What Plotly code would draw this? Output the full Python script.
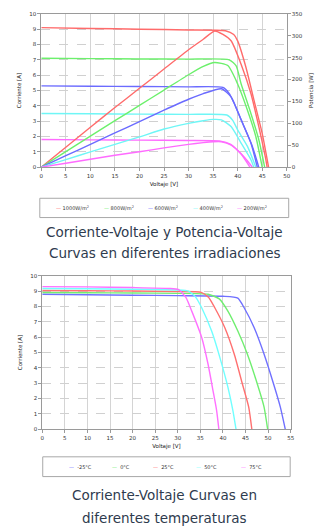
import plotly.graph_objects as go

W, H = 331, 531

# ---------------- data: irradiance chart ----------------
irr_labels = ["1000W/m<sup>2</sup>", "800W/m<sup>2</sup>", "600W/m<sup>2</sup>", "400W/m<sup>2</sup>", "200W/m<sup>2</sup>"]
irr_colors = ["#ff6b6b", "#6cf06c", "#6b6bff", "#6ff6f6", "#ff6bff"]

iv_v_1000 = [0, 10, 20, 30, 37.5, 39.2, 40, 41.7, 43.3, 45, 46.3]
iv_i_1000 = [9.1, 9.05, 9.0, 8.95, 8.9, 8.65, 8.24, 6.5, 4.4, 2.2, 0]
iv_v_800 = [0, 10, 20, 30, 38.3, 39.7, 40.7, 42.7, 44.3, 45.5]
iv_i_800 = [7.1, 7.08, 7.06, 7.05, 7.0, 6.6, 5.44, 3.5, 1.8, 0]
iv_v_600 = [0, 10, 20, 30, 37.0, 38.3, 39.3, 41.3, 43, 44.3]
iv_i_600 = [5.3, 5.28, 5.26, 5.24, 5.2, 4.8, 4.15, 2.65, 1.35, 0]
iv_v_400 = [0, 10, 20, 30, 37.8, 39, 40, 42, 43.7]
iv_i_400 = [3.5, 3.48, 3.46, 3.44, 3.4, 3.05, 2.43, 1.35, 0]
iv_v_200 = [0, 10, 20, 30, 36.5, 38.5, 40, 41.5, 43]
iv_i_200 = [1.8, 1.78, 1.76, 1.74, 1.7, 1.5, 1.1, 0.6, 0]

pv_v_1000 = [0, 5, 10, 15, 20, 25, 30, 33, 35.3, 37, 38.7, 40.7, 42.7, 44.3, 45.7, 46]
pv_p_1000 = [0, 45.5, 91, 136, 180, 224, 268, 292, 311, 303, 288, 235, 168, 93, 20, 0]
pv_v_800 = [0, 5, 10, 15, 20, 25, 30, 33, 35.3, 38, 40, 42, 43.7, 45]
pv_p_800 = [0, 35.5, 71, 106, 141, 176, 211, 230, 239, 232, 190, 130, 70, 0]
pv_v_600 = [0, 5, 10, 15, 20, 25, 30, 33, 36.7, 38.7, 40.7, 42.7, 44]
pv_p_600 = [0, 26, 52, 78, 104, 130, 155, 168, 179, 160, 108, 55, 0]
pv_v_400 = [0, 5, 10, 15, 20, 25, 30, 33, 35, 36.7, 38.7, 40.7, 42.7, 43.3]
pv_p_400 = [0, 17, 35, 52, 69, 87, 100, 106, 109, 108, 92, 55, 17, 0]
pv_v_200 = [0, 5, 10, 15, 20, 25, 30, 33, 35, 36.7, 38.7, 40.7, 42.5]
pv_p_200 = [0, 9, 18, 27, 35, 44, 52, 56, 58, 58, 50, 30, 0]

iv_sets = [(iv_v_1000, iv_i_1000), (iv_v_800, iv_i_800), (iv_v_600, iv_i_600),
           (iv_v_400, iv_i_400), (iv_v_200, iv_i_200)]
pv_sets = [(pv_v_1000, pv_p_1000), (pv_v_800, pv_p_800), (pv_v_600, pv_p_600),
           (pv_v_400, pv_p_400), (pv_v_200, pv_p_200)]

# ---------------- data: temperature chart ----------------
temp_labels = ["-25°C", "0°C", "25°C", "50°C", "75°C"]
temp_colors = ["#7070ff", "#70ee70", "#ff7070", "#70ffff", "#ff70ff"]

t_v_m25 = [0, 10, 20, 30, 40, 43.3, 44.7, 46.9, 49.1, 51.2, 52.7, 53.8]
t_i_m25 = [8.8, 8.77, 8.74, 8.71, 8.67, 8.55, 7.92, 6.63, 4.9, 2.96, 1.45, 0]
t_v_0 = [0, 10, 20, 30, 36.7, 39.2, 41.1, 43.3, 45.4, 47.6, 49.1, 49.9]
t_i_0 = [8.92, 8.9, 8.88, 8.86, 8.8, 8.5, 7.7, 6.4, 4.9, 2.96, 1.45, 0]
t_v_25 = [0, 10, 20, 30, 35.2, 36.8, 38.2, 40.4, 42.5, 44.3, 45.7, 46.4]
t_i_25 = [9.05, 9.03, 9.01, 8.98, 8.92, 8.6, 7.92, 6.63, 4.9, 2.96, 1.45, 0]
t_v_50 = [0, 10, 20, 30, 32.4, 34, 35.3, 37.5, 39.3, 41.1, 42.2, 42.9]
t_i_50 = [9.18, 9.16, 9.13, 9.08, 9.0, 8.6, 7.92, 6.4, 4.7, 2.74, 1.23, 0]
t_v_75 = [0, 10, 20, 28, 30.2, 31.8, 33.1, 35.3, 36.7, 37.8, 38.6, 39.1]
t_i_75 = [9.3, 9.28, 9.24, 9.18, 9.1, 8.6, 7.7, 5.98, 4.25, 2.52, 1.23, 0]

temp_sets = [(t_v_m25, t_i_m25), (t_v_0, t_i_0), (t_v_25, t_i_25),
             (t_v_50, t_i_50), (t_v_75, t_i_75)]

# ---------------- figure ----------------
fig = go.Figure()

line_style = dict(width=1.4, shape="spline", smoothing=0.55)
for (v, i), c in zip(iv_sets, irr_colors):
    fig.add_trace(go.Scatter(x=v, y=i, mode="lines", xaxis="x", yaxis="y",
                             line=dict(color=c, **line_style),
                             showlegend=False, hoverinfo="skip"))
for (v, p), c in zip(pv_sets, irr_colors):
    fig.add_trace(go.Scatter(x=v, y=p, mode="lines", xaxis="x", yaxis="y2",
                             line=dict(color=c, **line_style),
                             showlegend=False, hoverinfo="skip"))
for (v, i), c in zip(temp_sets, temp_colors):
    fig.add_trace(go.Scatter(x=v, y=i, mode="lines", xaxis="x2", yaxis="y3",
                             line=dict(color=c, **line_style),
                             showlegend=False, hoverinfo="skip"))


def py(px):
    return 1 - px / H


def pxx(px):
    return px / W


tickfont = dict(family="DejaVu Sans, Verdana", size=5.5, color="#333333")
titlefont = dict(family="DejaVu Sans, Verdana", size=5.5, color="#222222")
axis_common = dict(showline=True, linecolor="#9a9a9a", linewidth=1, mirror=True,
                   ticks="outside", ticklen=3, tickcolor="#9a9a9a", tickfont=tickfont,
                   zeroline=False, fixedrange=True)

fig.update_layout(
    width=W, height=H,
    margin=dict(l=0, r=0, t=0, b=0),
    paper_bgcolor="white", plot_bgcolor="white",
    showlegend=False,
    xaxis=dict(domain=[pxx(40), pxx(290)], anchor="y", range=[0, 50], dtick=5,
               showgrid=True, gridcolor="#d4d4d4", gridwidth=1,
               title=dict(text="Voltaje [V]", font=titlefont, standoff=4), **axis_common),
    yaxis=dict(domain=[py(166), py(11)], anchor="x", range=[0, 10], dtick=1,
               showgrid=True, gridcolor="#d0d0d0", griddash="dash",
               title=dict(text="Corriente [A]", font=titlefont, standoff=7), **axis_common),
    yaxis2=dict(overlaying="y", anchor="x", side="right", range=[0, 350], dtick=50,
                showgrid=False, showline=True, linecolor="#9a9a9a", ticks="outside",
                ticklen=3, tickcolor="#9a9a9a", tickfont=tickfont, zeroline=False,
                fixedrange=True,
                title=dict(text="Potencia [W]", font=titlefont, standoff=7)),
    xaxis2=dict(domain=[pxx(41), pxx(294)], anchor="y3", range=[0, 55], dtick=5,
                showgrid=True, gridcolor="#d4d4d4", gridwidth=1,
                title=dict(text="Voltaje [V]", font=titlefont, standoff=4), **axis_common),
    yaxis3=dict(domain=[py(431), py(276)], anchor="x2", range=[0, 10], dtick=1,
                showgrid=True, gridcolor="#d0d0d0", griddash="dash",
                title=dict(text="Corriente [A]", font=titlefont, standoff=7), **axis_common),
)

# legend boxes (layout decoration)
fig.add_shape(type="rect", xref="paper", yref="paper",
              x0=pxx(38.5), x1=pxx(292), y0=py(217), y1=py(197.5),
              line=dict(color="#a8a8a8", width=1), fillcolor="white")
fig.add_shape(type="rect", xref="paper", yref="paper",
              x0=pxx(41.5), x1=pxx(293.5), y0=py(479), y1=py(459),
              line=dict(color="#a8a8a8", width=1), fillcolor="white")

legfont = dict(family="DejaVu Sans, Verdana", size=5, color="#333333")
irr_leg_x = [53, 102, 147, 192, 237]
for lab, col, x in zip(irr_labels, irr_colors, irr_leg_x):
    fig.add_annotation(xref="paper", yref="paper", x=pxx(x), y=py(207), xanchor="left",
                       yanchor="middle", showarrow=False, font=legfont,
                       text=f"<span style='color:{col}'>—</span> {lab}")
temp_leg_x = [66, 110, 152, 196, 241]
for lab, col, x in zip(temp_labels, temp_colors, temp_leg_x):
    fig.add_annotation(xref="paper", yref="paper", x=pxx(x), y=py(469), xanchor="left",
                       yanchor="middle", showarrow=False, font=legfont,
                       text=f"<span style='color:{col}'>—</span>  {lab}")

capfont = dict(family="DejaVu Sans, Verdana", size=13.5, color="#2e3b4e")
captions = [("Corriente-Voltaje y Potencia-Voltaje", 232),
            ("Curvas en diferentes irradiaciones", 253),
            ("Corriente-Voltaje Curvas en", 498),
            ("diferentes temperaturas", 521)]
for txt, y in captions:
    fig.add_annotation(xref="paper", yref="paper", x=pxx(165.5), y=py(y), xanchor="center",
                       yanchor="middle", showarrow=False, font=capfont, text=txt)

fig.write_html("out.html", config={"displayModeBar": False},
               post_script="document.body.style.margin='0px';")
